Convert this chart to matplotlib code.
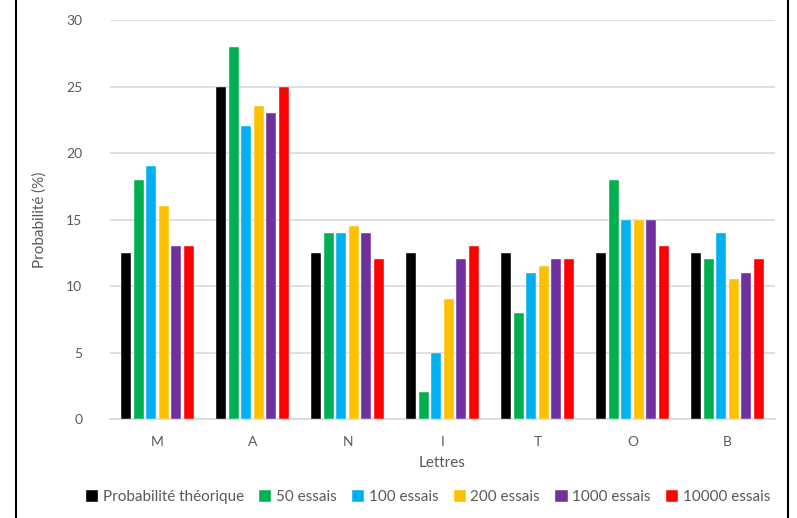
import matplotlib
matplotlib.use("Agg")
import matplotlib.pyplot as plt
from matplotlib.lines import Line2D
import numpy as np

categories = ["M", "A", "N", "I", "T", "O", "B"]
series_names = ["Probabilité théorique", "50 essais", "100 essais", "200 essais", "1000 essais", "10000 essais"]
theorique = [12.5, 25, 12.5, 12.5, 12.5, 12.5, 12.5]
essais_50 = [18, 28, 14, 2, 8, 18, 12]
essais_100 = [19, 22, 14, 5, 11, 15, 14]
essais_200 = [16, 23.5, 14.5, 9, 11.5, 15, 10.5]
essais_1000 = [13, 23, 14, 12, 12, 15, 11]
essais_10000 = [13, 25, 12, 13, 12, 13, 12]
yticks = [0, 5, 10, 15, 20, 25, 30]

colors = ["#000000", "#00B050", "#00B0F0", "#FFC000", "#7030A0", "#FF0000"]
all_series = [theorique, essais_50, essais_100, essais_200, essais_1000, essais_10000]

plt.rcParams['font.family'] = ['Lato', 'DejaVu Sans']
text_color = "#595959"

fig = plt.figure(figsize=(7.97, 5.18), dpi=100)
ax = fig.add_axes([110/797, 1 - 419/518, 665/797, 399/518])

x = np.arange(len(categories))
slot = 12.5 / 95
bw = 10 / 95
for i, (vals, c, name) in enumerate(zip(all_series, colors, series_names)):
    ax.bar(x + (i - 2.5) * slot, vals, width=bw, color=c, label=name,
           edgecolor="white", linewidth=0.3, zorder=3)

ax.set_xlim(-0.5, len(categories) - 0.5)
ax.set_ylim(0, 30)
ax.set_yticks(yticks)
ax.set_yticklabels([str(t) for t in yticks])
ax.set_xticks(x)
ax.set_xticklabels(categories)
ax.yaxis.grid(True, color="#d9d9d9", linewidth=1.2, zorder=0)
ax.tick_params(axis='both', length=0, colors=text_color, labelsize=10)
ax.tick_params(axis='y', pad=20)
ax.tick_params(axis='x', pad=12)
for s in ["top", "right", "left"]:
    ax.spines[s].set_visible(False)
ax.spines["bottom"].set_color("#d9d9d9")
ax.spines["bottom"].set_linewidth(1.2)

ax.set_xlabel("Lettres", color=text_color, fontsize=11, labelpad=6)
ax.set_ylabel("Probabilité (%)", color=text_color, fontsize=11, labelpad=14)

leg = fig.legend(loc="center", bbox_to_anchor=(428/797, 1 - 497/518), ncol=6,
                 frameon=False, fontsize=11, handlelength=0.8, handleheight=0.8,
                 handletextpad=0.3, columnspacing=1.0, labelcolor=text_color)

fig.add_artist(Line2D([16/797, 16/797], [0, 1], color="black", linewidth=1.5, transform=fig.transFigure))
fig.add_artist(Line2D([788/797, 788/797], [0, 1], color="black", linewidth=1.5, transform=fig.transFigure))

fig.savefig("out.png", dpi=100)
